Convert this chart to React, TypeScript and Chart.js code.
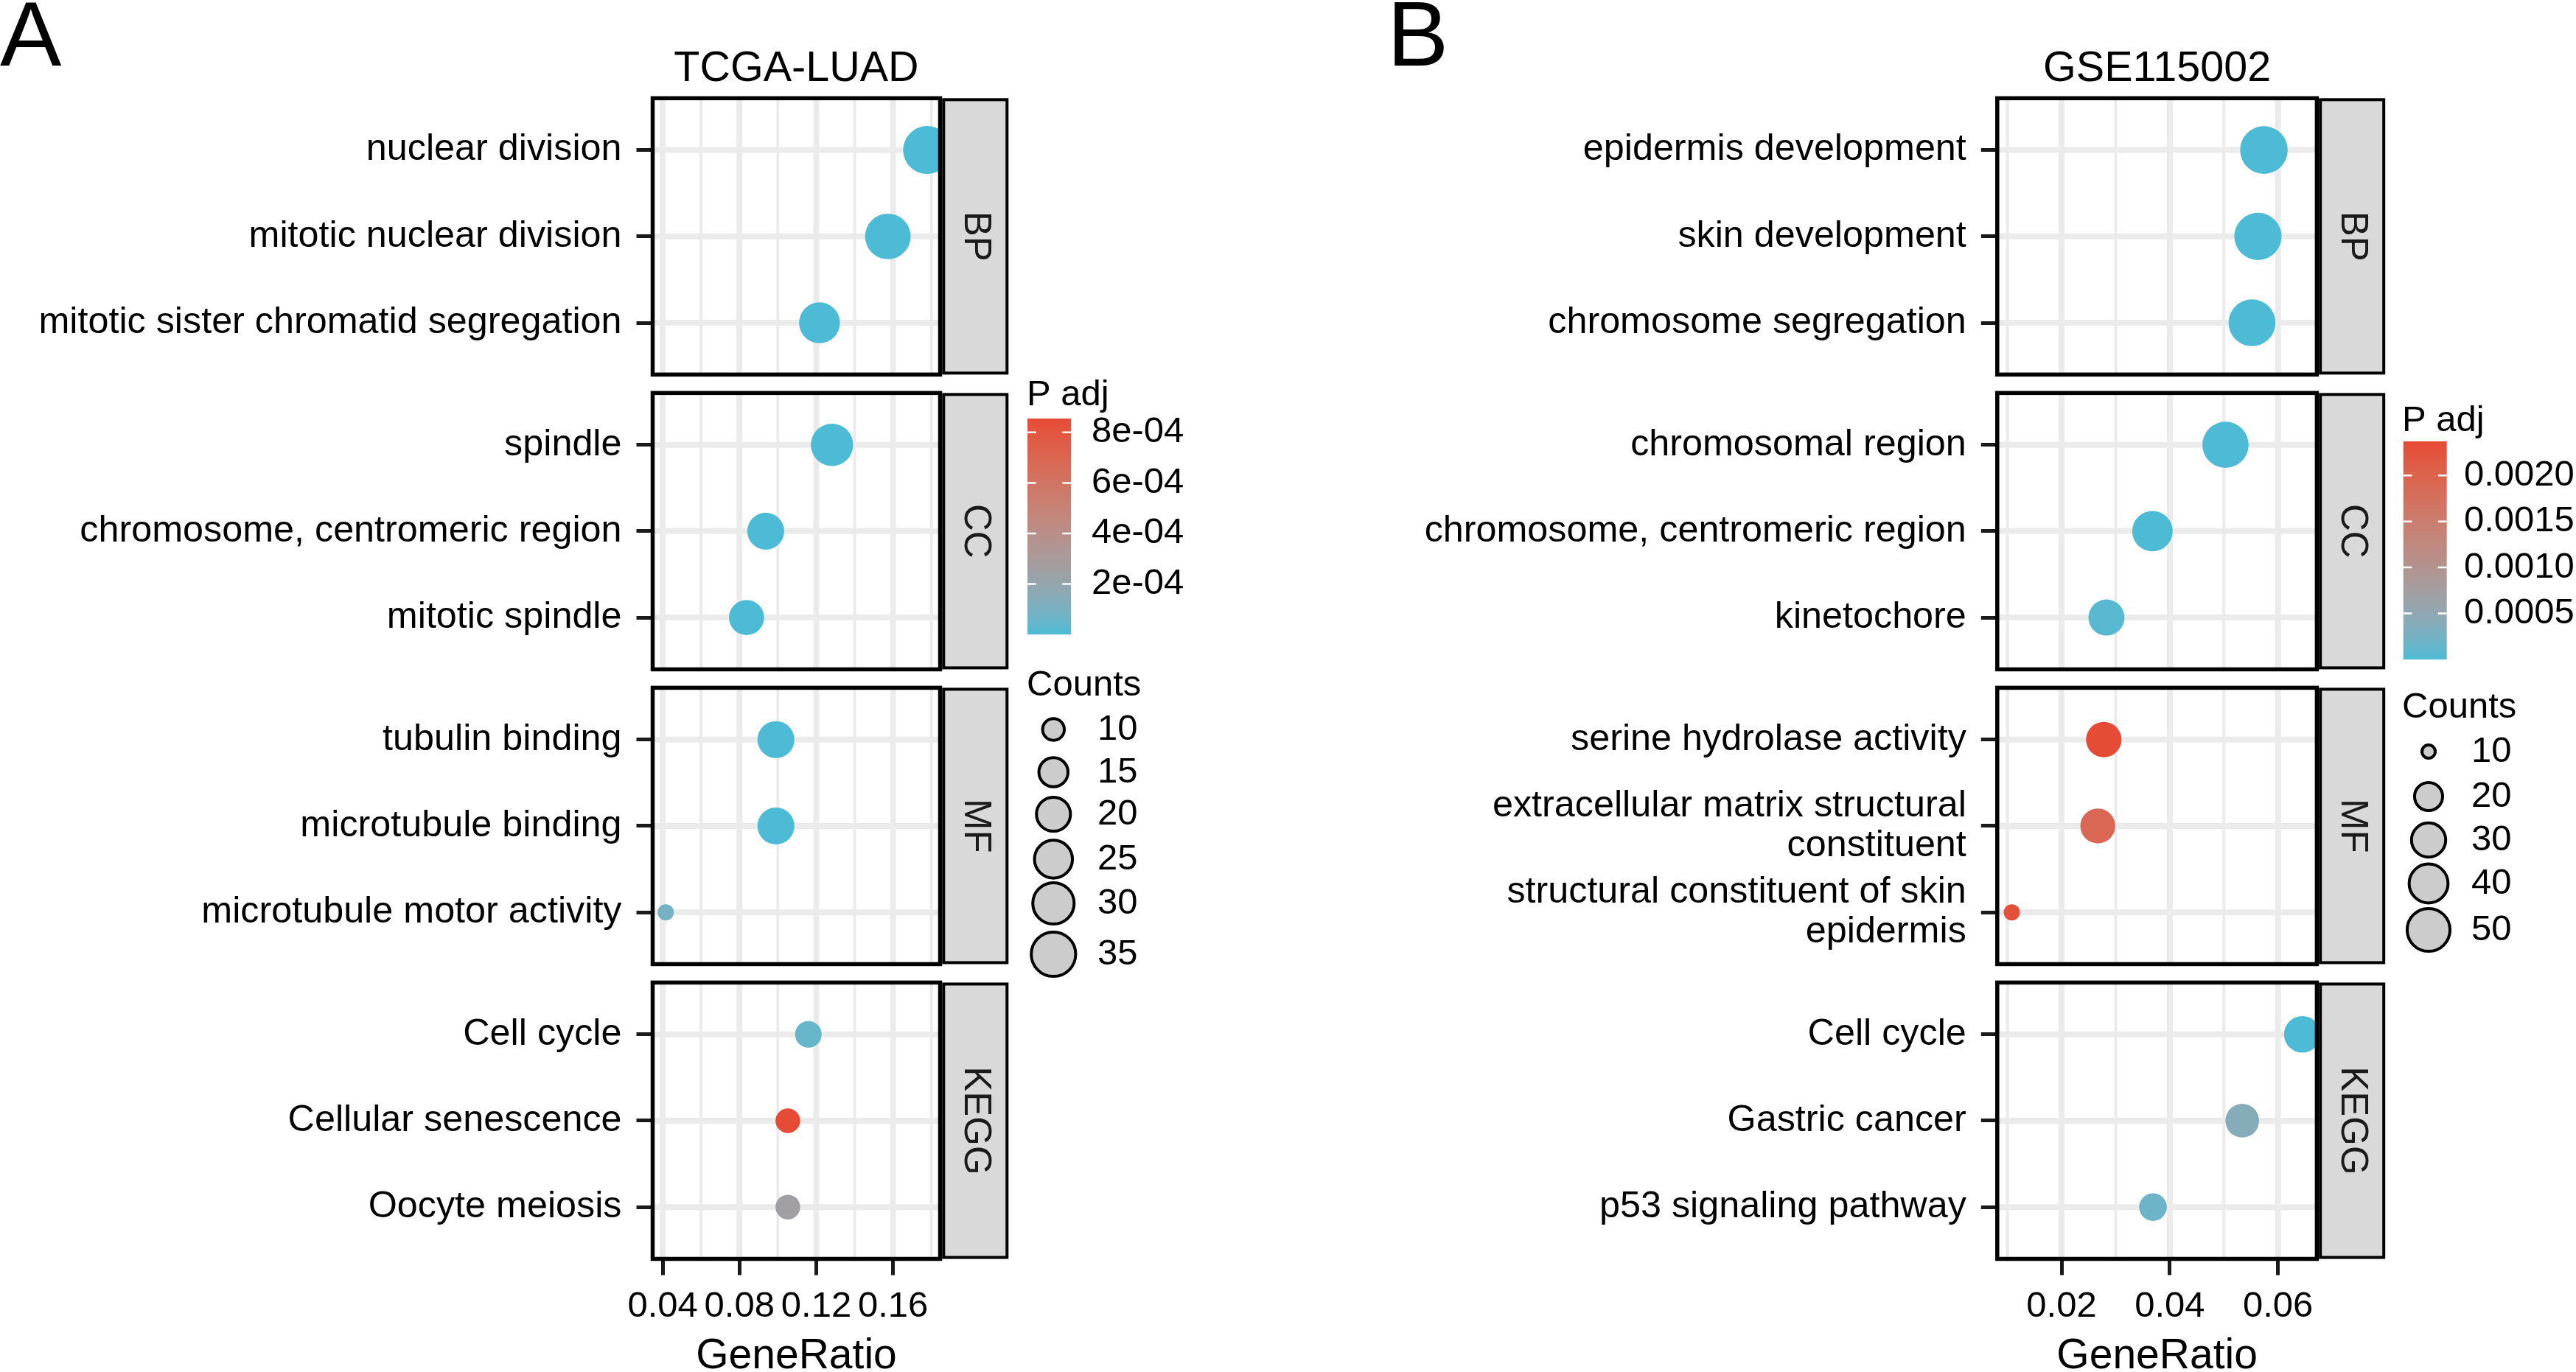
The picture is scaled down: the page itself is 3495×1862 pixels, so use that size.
import React, { useEffect, useRef } from 'react';
import { Chart, registerables } from 'chart.js';

Chart.register(...registerables);

const FONT = "'Liberation Sans', Arial, Helvetica, sans-serif";
const FACETS = ['BP', 'CC', 'MF', 'KEGG'];
const PAGE_W = 3495;
const PAGE_H = 1862;

// ---------------- Panel A : TCGA-LUAD ----------------
const termsA = [
  'nuclear division',
  'mitotic nuclear division',
  'mitotic sister chromatid segregation',
  'spindle',
  'chromosome, centromeric region',
  'mitotic spindle',
  'tubulin binding',
  'microtubule binding',
  'microtubule motor activity',
  'Cell cycle',
  'Cellular senescence',
  'Oocyte meiosis',
];
const ontologyA = ['BP', 'BP', 'BP', 'CC', 'CC', 'CC', 'MF', 'MF', 'MF', 'KEGG', 'KEGG', 'KEGG'];
const geneRatioA = [0.1777, 0.1573, 0.1217, 0.1282, 0.0937, 0.0837, 0.099, 0.099, 0.0416, 0.1159, 0.1052, 0.1052];
const countsA = [36, 32, 25, 27, 20, 18, 20, 20, 8, 11, 10, 10];
const padjA = [1.2e-12, 3.5e-11, 2.1e-9, 4.0e-9, 6.2e-8, 3.1e-7, 5.5e-7, 5.5e-7, 8.6e-5, 5.0e-5, 8.55e-4, 2.6e-4];
const xMajorA = [0.04, 0.08, 0.12, 0.16];
const xMajorLabelsA = ['0.04', '0.08', '0.12', '0.16'];
const xMinorA = [0.02, 0.06, 0.1, 0.14, 0.18];
const padjBreaksA = [2e-4, 4e-4, 6e-4, 8e-4];
const padjLabelsA = ['2e-04', '4e-04', '6e-04', '8e-04'];
const countBreaksA = [10, 15, 20, 25, 30, 35];

// ---------------- Panel B : GSE115002 ----------------
const termsB = [
  'epidermis development',
  'skin development',
  'chromosome segregation',
  'chromosomal region',
  'chromosome, centromeric region',
  'kinetochore',
  'serine hydrolase activity',
  'extracellular matrix structural\nconstituent',
  'structural constituent of skin\nepidermis',
  'Cell cycle',
  'Gastric cancer',
  'p53 signaling pathway',
];
const ontologyB = ['BP', 'BP', 'BP', 'CC', 'CC', 'CC', 'MF', 'MF', 'MF', 'KEGG', 'KEGG', 'KEGG'];
const geneRatioB = [0.0574, 0.0563, 0.0552, 0.0503, 0.0368, 0.0283, 0.0278, 0.0267, 0.0108, 0.0645, 0.0534, 0.0369];
const countsB = [55, 54, 53, 51, 37, 28, 27, 26, 10, 29, 24, 16];
const padjB = [2.0e-10, 3.1e-10, 1.5e-9, 4.4e-8, 6.0e-6, 5.2e-5, 2.37e-3, 1.92e-3, 2.3e-3, 2.1e-6, 4.0e-4, 1.9e-4];
const xMajorB = [0.02, 0.04, 0.06];
const xMajorLabelsB = ['0.02', '0.04', '0.06'];
const xMinorB = [0.01, 0.03, 0.05, 0.07];
const padjBreaksB = [0.0005, 0.001, 0.0015, 0.002];
const padjLabelsB = ['0.0005', '0.0010', '0.0015', '0.0020'];
const countBreaksB = [10, 20, 30, 40, 50];

// ---------------- colour ramp (Lab interpolation like ggplot) ----------------
const LOW = '#4DBBD5';
const HIGH = '#E64B35';
const Xn = 0.95047, Yn = 1.0, Zn = 1.08883;
function hexToRgb(h: string) {
  return [parseInt(h.slice(1, 3), 16), parseInt(h.slice(3, 5), 16), parseInt(h.slice(5, 7), 16)];
}
function toLin(c: number) {
  c /= 255;
  return c <= 0.04045 ? c / 12.92 : Math.pow((c + 0.055) / 1.055, 2.4);
}
function fromLin(c: number) {
  const v = c <= 0.0031308 ? 12.92 * c : 1.055 * Math.pow(Math.max(c, 0), 1 / 2.4) - 0.055;
  return Math.round(Math.max(0, Math.min(1, v)) * 255);
}
function fl(t: number) {
  return t > 0.008856 ? Math.cbrt(t) : 7.787 * t + 16 / 116;
}
function flInv(t: number) {
  return t > 0.206893 ? t * t * t : (t - 16 / 116) / 7.787;
}
function rgbToLab(rgb: number[]) {
  const R = toLin(rgb[0]), G = toLin(rgb[1]), B = toLin(rgb[2]);
  const X = 0.4124 * R + 0.3576 * G + 0.1805 * B;
  const Y = 0.2126 * R + 0.7152 * G + 0.0722 * B;
  const Z = 0.0193 * R + 0.1192 * G + 0.9505 * B;
  const fx = fl(X / Xn), fy = fl(Y / Yn), fz = fl(Z / Zn);
  return [116 * fy - 16, 500 * (fx - fy), 200 * (fy - fz)];
}
function labToRgb(lab: number[]) {
  const fy = (lab[0] + 16) / 116;
  const fx = fy + lab[1] / 500;
  const fz = fy - lab[2] / 200;
  const X = Xn * flInv(fx), Y = Yn * flInv(fy), Z = Zn * flInv(fz);
  const R = 3.2406 * X - 1.5372 * Y - 0.4986 * Z;
  const G = -0.9689 * X + 1.8758 * Y + 0.0415 * Z;
  const B = 0.0557 * X - 0.204 * Y + 1.057 * Z;
  return [fromLin(R), fromLin(G), fromLin(B)];
}
const LAB_LOW = rgbToLab(hexToRgb(LOW));
const LAB_HIGH = rgbToLab(hexToRgb(HIGH));
function ramp(t: number) {
  const u = Math.max(0, Math.min(1, t));
  const lab = [0, 1, 2].map((i) => LAB_LOW[i] + (LAB_HIGH[i] - LAB_LOW[i]) * u);
  const c = labToRgb(lab);
  return `rgb(${c[0]},${c[1]},${c[2]})`;
}

// ---------------- layout constants ----------------
const F_UNITS = 3.2; // facet height in discrete units
const G_UNITS = 25 / 117.1875; // gap between facets in units
const Y_MAX = 4 * F_UNITS + 3 * G_UNITS;
const PLOT_TOP = 133.3;
const PLOT_BOTTOM = 1708.5;

const specA = {
  terms: termsA, ontology: ontologyA, ratio: geneRatioA, counts: countsA, padj: padjA,
  xMajor: xMajorA, xMajorLabels: xMajorLabelsA, xMinor: xMinorA,
  padjBreaks: padjBreaksA, padjLabels: padjLabelsA, countBreaks: countBreaksA,
  title: 'TCGA-LUAD', letter: 'A', letterX: 0,
  canvasLeft: 0, canvasWidth: 1748, plotLeft: 885.5, plotRight: 1275.5,
  dMin: 22, dMax: 65,
  legTitleX: 1393, padjTitleY: 550, barX: 1394, barW: 59, barTop: 568, barBottom: 861, barLabelX: 1481,
  countTitleY: 943.5, circleX: 1429.3, circleYs: [990, 1048, 1105, 1166, 1226, 1295], countLabelX: 1489,
  titleY: 109.5,
};

const specB = {
  terms: termsB, ontology: ontologyB, ratio: geneRatioB, counts: countsB, padj: padjB,
  xMajor: xMajorB, xMajorLabels: xMajorLabelsB, xMinor: xMinorB,
  padjBreaks: padjBreaksB, padjLabels: padjLabelsB, countBreaks: countBreaksB,
  title: 'GSE115002', letter: 'B', letterX: 1882,
  canvasLeft: 1748, canvasWidth: 1747, plotLeft: 2709.8, plotRight: 3143.4,
  dMin: 22, dMax: 64.6,
  legTitleX: 3259, padjTitleY: 585, barX: 3260.7, barW: 59, barTop: 599, barBottom: 895, barLabelX: 3343,
  countTitleY: 974, circleX: 3295, circleYs: [1020, 1081, 1140, 1199, 1262], countLabelX: 3353,
  titleY: 110,
};

function buildConfig(spec: any) {
  const ox = spec.canvasLeft;
  const yVals = spec.ontology.map((o: string, i: number) => {
    const k = FACETS.indexOf(o);
    const j = spec.ontology.slice(0, i).filter((v: string) => v === o).length;
    return k * (F_UNITS + G_UNITS) + 0.6 + j;
  });
  const cMin = Math.min(...spec.counts);
  const cMax = Math.max(...spec.counts);
  const sizeOf = (c: number) => spec.dMin + (spec.dMax - spec.dMin) * Math.sqrt(Math.max(0, (c - cMin) / (cMax - cMin)));
  const pMin = Math.min(...spec.padj);
  const pMax = Math.max(...spec.padj);
  const colOf = (p: number) => ramp((p - pMin) / (pMax - pMin));
  const rMin = Math.min(...spec.ratio);
  const rMax = Math.max(...spec.ratio);
  const xMin = rMin - 0.05 * (rMax - rMin);
  const xMax = rMax + 0.05 * (rMax - rMin);

  const points = spec.ratio.map((r: number, i: number) => ({ x: r, y: yVals[i], r: sizeOf(spec.counts[i]) / 2 }));
  const colors = spec.padj.map(colOf);

  const decor = {
    id: 'decor',
    beforeDatasetsDraw(chart: any) {
      const { ctx, chartArea, scales } = chart;
      const xs = scales.x, ys = scales.y;
      for (let k = 0; k < 4; k++) {
        const t = ys.getPixelForValue(k * (F_UNITS + G_UNITS));
        const b = ys.getPixelForValue(k * (F_UNITS + G_UNITS) + F_UNITS);
        ctx.save();
        ctx.beginPath();
        ctx.rect(chartArea.left, t, chartArea.right - chartArea.left, b - t);
        ctx.clip();
        ctx.fillStyle = '#FFFFFF';
        ctx.fillRect(chartArea.left, t, chartArea.right - chartArea.left, b - t);
        ctx.strokeStyle = '#EBEBEB';
        ctx.lineWidth = 4;
        spec.xMinor.forEach((v: number) => {
          const px = xs.getPixelForValue(v);
          ctx.beginPath(); ctx.moveTo(px, t); ctx.lineTo(px, b); ctx.stroke();
        });
        ctx.lineWidth = 8;
        spec.xMajor.forEach((v: number) => {
          const px = xs.getPixelForValue(v);
          ctx.beginPath(); ctx.moveTo(px, t); ctx.lineTo(px, b); ctx.stroke();
        });
        for (let j = 0; j < 3; j++) {
          const py = ys.getPixelForValue(k * (F_UNITS + G_UNITS) + 0.6 + j);
          ctx.beginPath(); ctx.moveTo(chartArea.left, py); ctx.lineTo(chartArea.right, py); ctx.stroke();
        }
        ctx.restore();
      }
    },
    afterDatasetsDraw(chart: any) {
      const { ctx, chartArea, scales } = chart;
      const ys = scales.y;
      for (let k = 0; k < 4; k++) {
        const t = ys.getPixelForValue(k * (F_UNITS + G_UNITS));
        const b = ys.getPixelForValue(k * (F_UNITS + G_UNITS) + F_UNITS);
        ctx.save();
        // strip
        const sx1 = chartArea.right + 4.8;
        const sx2 = chartArea.right + 90.8;
        ctx.fillStyle = '#D9D9D9';
        ctx.fillRect(sx1, t + 2, sx2 - sx1, b - t - 4);
        ctx.strokeStyle = '#000';
        ctx.lineWidth = 4;
        ctx.strokeRect(sx1, t + 2, sx2 - sx1, b - t - 4);
        // panel border
        ctx.lineWidth = 5.5;
        ctx.strokeRect(chartArea.left, t, chartArea.right - chartArea.left, b - t);
        // strip text
        ctx.translate((sx1 + sx2) / 2, (t + b) / 2);
        ctx.rotate(Math.PI / 2);
        ctx.fillStyle = '#1A1A1A';
        ctx.font = `51px ${FONT}`;
        ctx.textAlign = 'center';
        ctx.textBaseline = 'middle';
        ctx.fillText(FACETS[k], 0, 0);
        ctx.restore();
      }
    },
    afterDraw(chart: any) {
      const { ctx, chartArea } = chart;
      ctx.save();
      ctx.fillStyle = '#000';
      // panel letter
      ctx.font = `125px ${FONT}`;
      ctx.textAlign = 'left';
      ctx.textBaseline = 'alphabetic';
      ctx.fillText(spec.letter, spec.letterX - ox, 89);
      // title
      ctx.font = `57.5px ${FONT}`;
      ctx.textAlign = 'center';
      ctx.fillText(spec.title, (chartArea.left + chartArea.right) / 2, spec.titleY);

      // colour legend
      ctx.font = `49px ${FONT}`;
      ctx.textAlign = 'left';
      ctx.textBaseline = 'alphabetic';
      ctx.fillText('P adj', spec.legTitleX - ox, spec.padjTitleY);
      const bx = spec.barX - ox;
      const grad = ctx.createLinearGradient(0, spec.barBottom, 0, spec.barTop);
      for (let i = 0; i <= 40; i++) grad.addColorStop(i / 40, ramp(i / 40));
      ctx.fillStyle = grad;
      ctx.fillRect(bx, spec.barTop, spec.barW, spec.barBottom - spec.barTop);
      const barPix = (v: number) => spec.barBottom - ((v - pMin) / (pMax - pMin)) * (spec.barBottom - spec.barTop);
      ctx.strokeStyle = '#FFFFFF';
      ctx.lineWidth = 2.5;
      spec.padjBreaks.forEach((v: number, i: number) => {
        const py = barPix(v);
        ctx.beginPath();
        ctx.moveTo(bx, py); ctx.lineTo(bx + spec.barW / 5, py);
        ctx.moveTo(bx + spec.barW, py); ctx.lineTo(bx + spec.barW - spec.barW / 5, py);
        ctx.stroke();
        ctx.fillStyle = '#000';
        ctx.textBaseline = 'middle';
        ctx.fillText(spec.padjLabels[i], spec.barLabelX - ox, py);
      });

      // size legend
      ctx.textBaseline = 'alphabetic';
      ctx.fillStyle = '#000';
      ctx.fillText('Counts', spec.legTitleX - ox, spec.countTitleY);
      spec.countBreaks.forEach((c: number, i: number) => {
        const d = sizeOf(c);
        const cy = spec.circleYs[i];
        ctx.beginPath();
        ctx.arc(spec.circleX - ox, cy, d / 2 - 2, 0, Math.PI * 2);
        ctx.fillStyle = '#CCCCCC';
        ctx.fill();
        ctx.lineWidth = 4;
        ctx.strokeStyle = '#000';
        ctx.stroke();
        ctx.fillStyle = '#000';
        ctx.textBaseline = 'middle';
        ctx.fillText(String(c), spec.countLabelX - ox, cy);
      });
      ctx.restore();
    },
  };

  return {
    type: 'bubble',
    data: {
      datasets: [
        {
          data: points,
          backgroundColor: colors,
          borderWidth: 0,
          hoverBorderWidth: 0,
          clip: 0,
        },
      ],
    },
    options: {
      responsive: false,
      animation: false,
      devicePixelRatio: 1,
      events: [],
      layout: {
        padding: {
          left: 0,
          top: PLOT_TOP,
          bottom: 0,
          right: spec.canvasWidth - (spec.plotRight - ox),
        },
      },
      plugins: {
        legend: { display: false },
        tooltip: { enabled: false },
        title: { display: false },
      },
      scales: {
        x: {
          type: 'linear',
          position: 'bottom',
          min: xMin,
          max: xMax,
          afterBuildTicks: (s: any) => {
            s.ticks = spec.xMajor.map((v: number) => ({ value: v }));
          },
          afterFit: (s: any) => {
            s.height = PAGE_H - PLOT_BOTTOM;
          },
          ticks: {
            autoSkip: false,
            maxRotation: 0,
            minRotation: 0,
            padding: 14,
            color: '#000',
            font: { family: FONT, size: 49 },
            callback: (_v: any, i: number) => spec.xMajorLabels[i],
          },
          grid: {
            drawOnChartArea: false,
            drawTicks: true,
            tickLength: 22,
            lineWidth: 5,
            color: '#1A1A1A',
          },
          border: { display: false },
          title: {
            display: true,
            text: 'GeneRatio',
            color: '#000',
            padding: 0,
            font: { family: FONT, size: 57, lineHeight: '42px' },
          },
        },
        y: {
          type: 'linear',
          position: 'left',
          min: 0,
          max: Y_MAX,
          reverse: true,
          afterBuildTicks: (s: any) => {
            s.ticks = yVals.map((v: number) => ({ value: v }));
          },
          afterFit: (s: any) => {
            s.width = spec.plotLeft - ox;
          },
          ticks: {
            autoSkip: false,
            padding: 20,
            color: '#000',
            font: { family: FONT, size: 50.3, lineHeight: 1.07 },
            callback: (_v: any, i: number) => {
              const t = spec.terms[i] || '';
              return t.indexOf('\n') >= 0 ? t.split('\n') : t;
            },
          },
          grid: {
            drawOnChartArea: false,
            drawTicks: true,
            tickLength: 22,
            lineWidth: 5,
            color: '#1A1A1A',
          },
          border: { display: false },
        },
      },
    },
    plugins: [decor],
  };
}

function Panel({ spec }: { spec: any }) {
  const ref = useRef<HTMLCanvasElement | null>(null);
  useEffect(() => {
    if (!ref.current) return;
    const chart = new Chart(ref.current, buildConfig(spec) as any);
    return () => chart.destroy();
  }, [spec]);
  return (
    <canvas
      ref={ref}
      width={spec.canvasWidth}
      height={PAGE_H}
      style={{ position: 'absolute', left: spec.canvasLeft, top: 0, width: spec.canvasWidth, height: PAGE_H }}
    />
  );
}

export default function App() {
  return (
    <div
      style={{
        position: 'fixed',
        left: 0,
        top: 0,
        width: PAGE_W,
        height: PAGE_H,
        background: '#FFFFFF',
        overflow: 'hidden',
      }}
    >
      <Panel spec={specA} />
      <Panel spec={specB} />
    </div>
  );
}
